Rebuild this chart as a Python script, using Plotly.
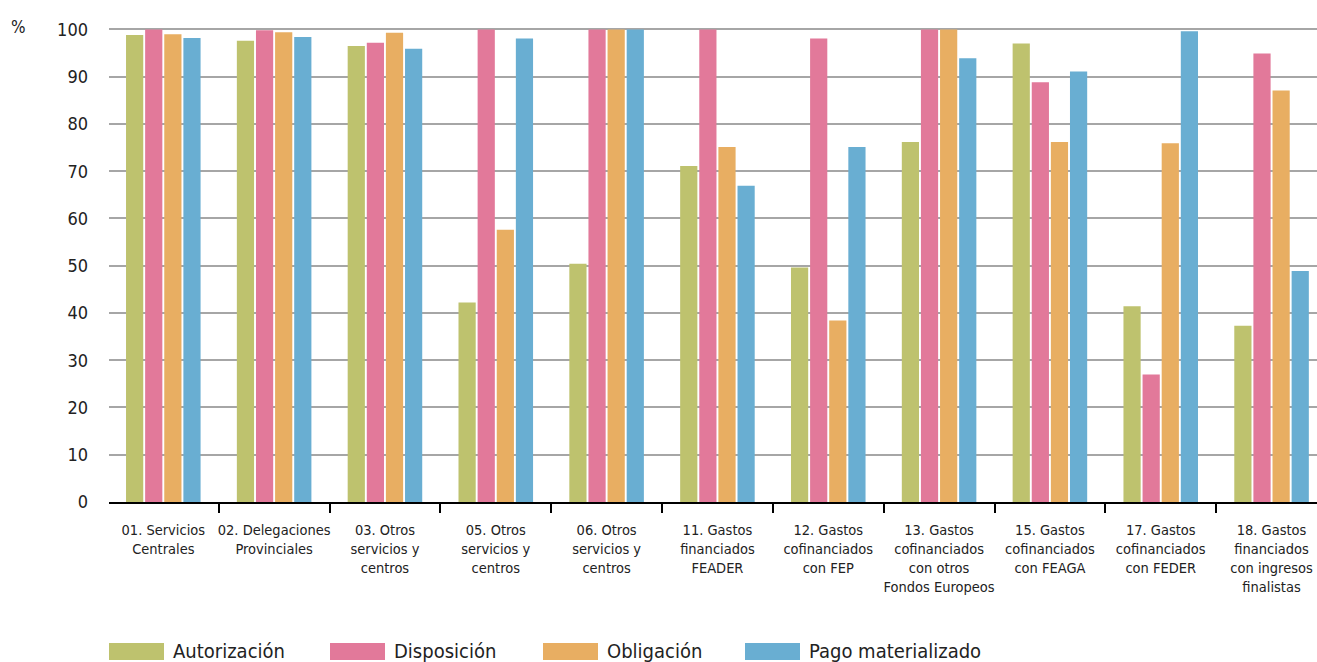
import plotly.graph_objects as go

categories = [
    "01. Servicios<br>Centrales",
    "02. Delegaciones<br>Provinciales",
    "03. Otros<br>servicios y<br>centros",
    "05. Otros<br>servicios y<br>centros",
    "06. Otros<br>servicios y<br>centros",
    "11. Gastos<br>financiados<br>FEADER",
    "12. Gastos<br>cofinanciados<br>con FEP",
    "13. Gastos<br>cofinanciados<br>con otros<br>Fondos Europeos",
    "15. Gastos<br>cofinanciados<br>con FEAGA",
    "17. Gastos<br>cofinanciados<br>con FEDER",
    "18. Gastos<br>financiados<br>con ingresos<br>finalistas",
]

autorizacion = [98.8, 97.6, 96.5, 42.2, 50.4, 71.1, 49.6, 76.2, 97.0, 41.4, 37.3]
disposicion = [100.0, 99.8, 97.2, 100.0, 100.0, 100.0, 98.1, 100.0, 88.8, 27.0, 94.9]
obligacion = [99.0, 99.4, 99.3, 57.6, 100.0, 75.1, 38.4, 100.0, 76.2, 75.9, 87.1]
pago = [98.2, 98.4, 95.9, 98.1, 100.0, 66.9, 75.1, 93.9, 91.1, 99.6, 48.9]

series_names = ["Autorización", "Disposición", "Obligación", "Pago materializado"]
series_values = [autorizacion, disposicion, obligacion, pago]
colors = ["#BEC26E", "#E2799A", "#E8AE62", "#69AED2"]

y_ticks = [0, 10, 20, 30, 40, 50, 60, 70, 80, 90, 100]

FONT = "DejaVu Sans Condensed, Roboto, sans-serif"

fig = go.Figure()
for name, vals, col in zip(series_names, series_values, colors):
    fig.add_trace(go.Bar(x=categories, y=vals, name=name, marker_color=col,
                         marker_line_width=0, showlegend=False))

W, H = 1317, 662
ml, mr, mt, mb = 109, 0, 28, 160
fig.update_layout(
    width=W, height=H,
    margin=dict(l=ml, r=mr, t=mt, b=mb, autoexpand=False),
    barmode="group", bargap=0.31, bargroupgap=0.1,
    plot_bgcolor="white", paper_bgcolor="white",
    font=dict(family=FONT, color="#222222"),
)
fig.update_xaxes(
    type="category", range=[-0.49, 10.41],
    showline=True, linecolor="black", linewidth=2,
    ticks="outside", tickson="boundaries", ticklen=9, tickwidth=2, tickcolor="black",
    tickfont=dict(size=14.5, family=FONT, color="#222222"),
    ticklabelstandoff=14,
    showgrid=False, tickangle=0, automargin=False,
)
fig.update_yaxes(
    range=[0, 100.3], tickvals=y_ticks,
    showgrid=True, gridcolor="#A6A6A6", gridwidth=2,
    zeroline=False, showline=False,
    tickfont=dict(size=18, family=FONT, color="#222222"),
    ticklabelstandoff=20, automargin=False,
)

pw, ph = W - ml - mr, H - mt - mb
def px_to_paper_x(px):
    return (px - ml) / pw
def px_to_paper_y(py):
    return 1 - (py - mt) / ph

fig.add_annotation(x=px_to_paper_x(18), y=px_to_paper_y(27),
                   xref="paper", yref="paper", text="%", showarrow=False,
                   font=dict(size=17, family=FONT), xanchor="center", yanchor="middle")

# custom legend
legend_x = [109, 330, 543, 745]
for name, col, lx in zip(series_names, colors, legend_x):
    fig.add_shape(type="rect", xref="paper", yref="paper",
                  x0=px_to_paper_x(lx), x1=px_to_paper_x(lx + 55),
                  y0=px_to_paper_y(660), y1=px_to_paper_y(643),
                  fillcolor=col, line_width=0)
    fig.add_annotation(x=px_to_paper_x(lx + 62), y=px_to_paper_y(651),
                       xref="paper", yref="paper", text=name, showarrow=False,
                       xanchor="left", yanchor="middle",
                       font=dict(size=20, family=FONT, color="#222222"))

fig.write_html("out.html", config={"displayModeBar": False},
               post_script="document.body.style.margin='0';document.body.style.overflow='hidden';")
